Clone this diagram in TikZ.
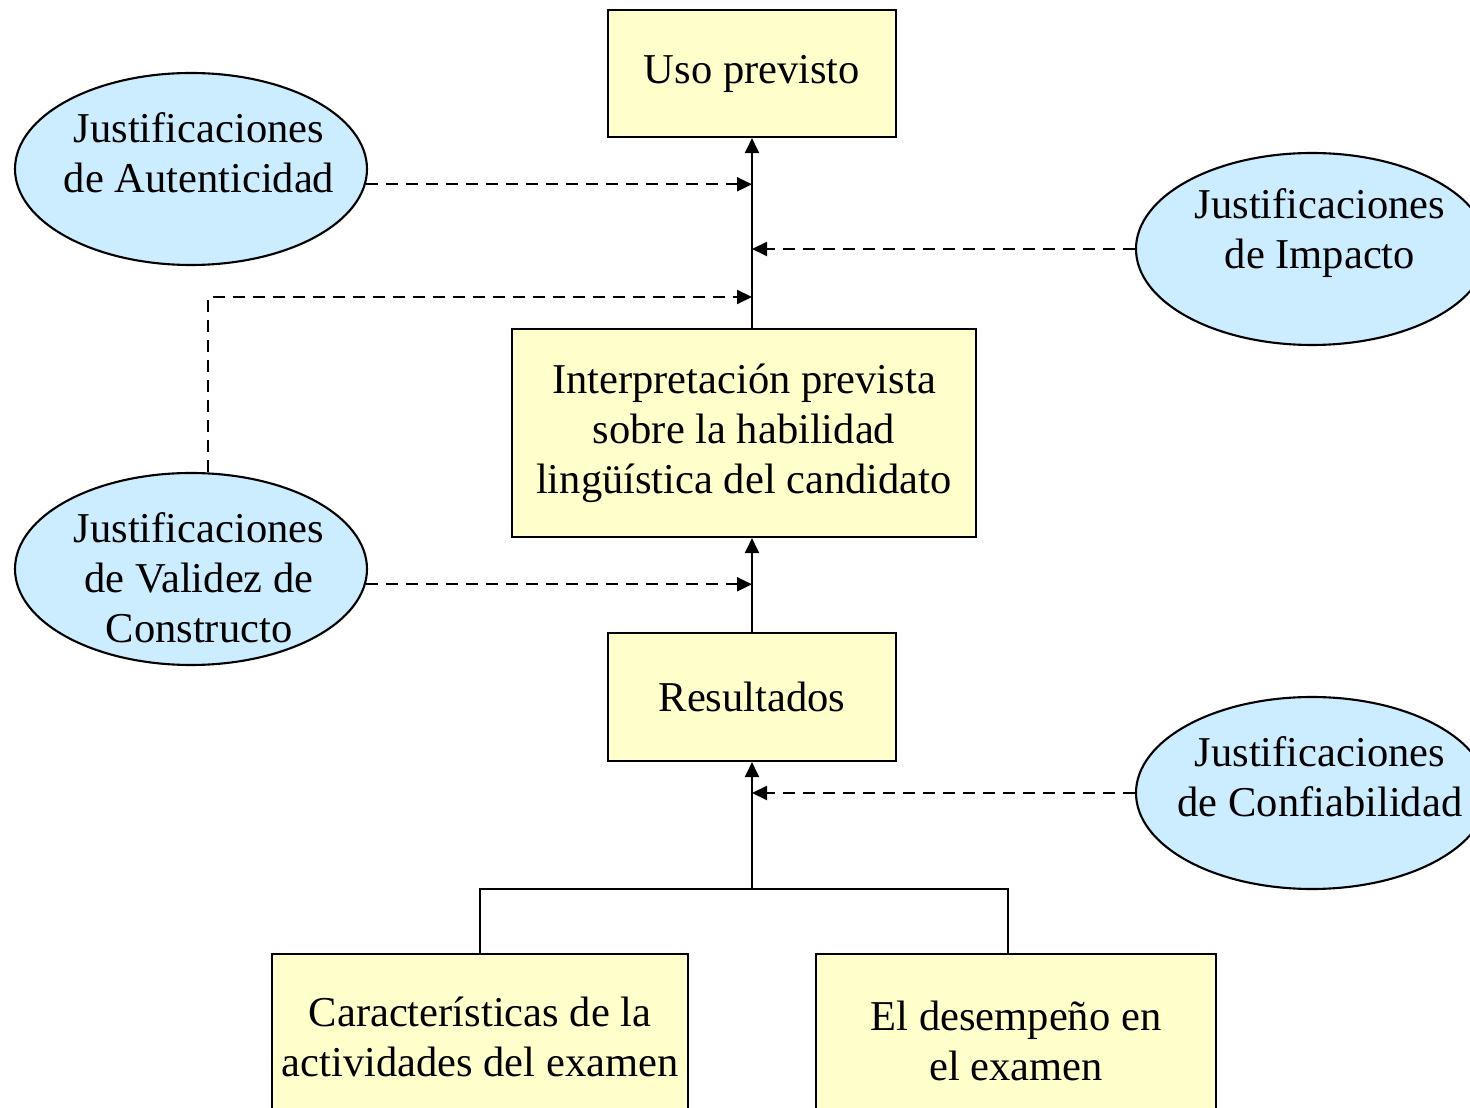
\documentclass[tikz,border=0pt]{standalone}
\usepackage{fontspec}
\setmainfont{Liberation Serif}
\usetikzlibrary{arrows.meta,shapes.geometric,positioning}
\definecolor{amarillo}{HTML}{FFFFCC}
\definecolor{celeste}{HTML}{CCECFF}

\begin{document}
\begin{tikzpicture}[x=0.1mm,y=-0.1mm,>={Triangle[length=1.5mm,width=1.4mm]},
  line width=0.6pt,
  font=\fontsize{12.1}{14.2}\selectfont,
  caja/.style={draw,fill=amarillo,align=center,inner sep=0pt},
  justif/.style={ellipse,draw,fill=celeste,inner sep=0pt,
    minimum width=35.2mm,minimum height=19.2mm},
  texto/.style={align=center,inner sep=0pt,xshift=0.8mm},
  flujo/.style={->,dashed,dash pattern=on 1.2mm off 0.8mm}]
  \useasboundingbox (0,0) rectangle (1470,1108);
  \clip (0,0) rectangle (1470,1108);

  \node[caja, minimum width=28.8mm, minimum height=12.7mm] (uso)    at (752,73.5) {Uso previsto};
  \node[caja, minimum width=46.4mm, minimum height=20.8mm] (interp) at (744,433)
    {Interpretación prevista\\sobre la habilidad\\lingüística del candidato};
  \node[caja, minimum width=28.8mm, minimum height=12.8mm] (res)    at (752,697) {Resultados};
  \node[caja, minimum width=41.6mm, minimum height=16.6mm, anchor=north] (car) at (480,953)
    {Características de la\\actividades del examen};
  \node[caja, minimum width=40mm, minimum height=17.4mm, anchor=north] (des) at (1016,953)
    {El desempeño en\\el examen};

  \node[justif, label={[texto,yshift=1.6mm]center:Justificaciones\\de Autenticidad}] (aut) at (191,169) {};
  \node[justif, label={[texto,yshift=1.6mm]center:Justificaciones\\de Impacto}] (imp) at (1312,249) {};
  \node[justif, label={[texto,yshift=-0.9mm]center:Justificaciones\\de Validez de\\Constructo}] (val) at (191,569) {};
  \node[justif, label={[texto,yshift=1.6mm]center:Justificaciones\\de Confiabilidad}] (conf) at (1312,793) {};

  \coordinate (split) at (752,889);
  \coordinate (jval)  at (752,297);

  % cadena principal
  \draw[->] (interp.north -| uso.south) -- (uso.south);
  \draw[->] (res.north) -- (res.north |- interp.south);
  \draw[->] (split) -- (res.south);
  \draw (car.north) |- (split) -| ([xshift=-0.8mm]des.north);

  % justificaciones
  \draw[flujo] (aut.-5) -- (aut.-5 -| uso.south);
  \draw[flujo] (imp.west) -- (imp.west -| uso.south);
  \draw[flujo] (val.80) |- (jval);
  \draw[flujo] (val.-5) -- (val.-5 -| res.north);
  \draw[flujo] (conf.west) -- (conf.west -| res.north);
\end{tikzpicture}
\end{document}
